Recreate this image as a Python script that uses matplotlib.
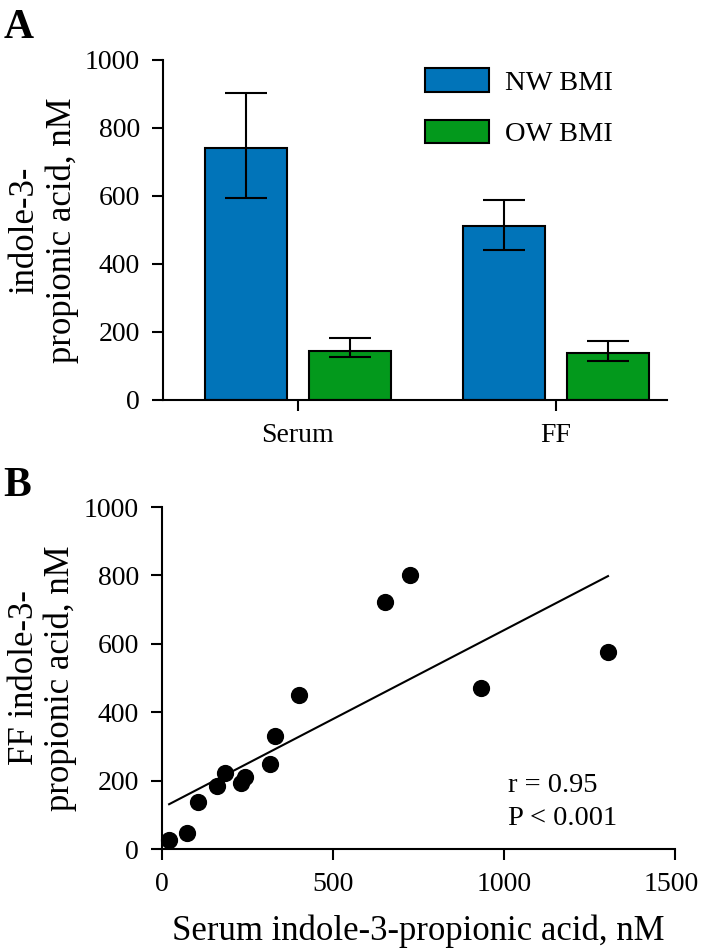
import numpy as np
import matplotlib
matplotlib.use('Agg')
import matplotlib.pyplot as plt
from matplotlib.transforms import ScaledTranslation

plt.rcParams['font.family'] = ['Liberation Serif', 'DejaVu Serif']
plt.rcParams['font.size'] = 20

# panel A data
groups = ['Serum', 'FF']
nw_mean = [742, 510]
nw_err_lo = [147, 70]
nw_err_hi = [161, 79]
ow_mean = [144, 138]
ow_err_lo = [18, 24]
ow_err_hi = [38, 35]

# panel B data
serum = [21, 73, 106, 161, 185, 230, 244, 317, 331, 401, 651, 725, 933, 1304]
ff = [26, 48, 137, 184, 221, 192, 211, 248, 330, 450, 721, 801, 472, 577]
fit_x = [21, 1304]
fit_y = [131, 798]

blue = '#0174b9'
green = '#03991c'

fig = plt.figure(figsize=(7.01, 9.5), dpi=100)

# ---- panel A ----
axA = fig.add_axes([0.2325, 0.579, 0.719, 0.358])
x = np.arange(len(groups))
w = 0.318
off = 0.2
axA.bar(x - off, nw_mean, w, color=blue, edgecolor='black', linewidth=1.5, label='NW BMI')
axA.bar(x + off, ow_mean, w, color=green, edgecolor='black', linewidth=1.5, label='OW BMI')
axA.errorbar(x - off, nw_mean, yerr=[nw_err_lo, nw_err_hi], fmt='none', ecolor='black',
             elinewidth=1.5, capsize=15, capthick=1.5)
axA.errorbar(x + off, ow_mean, yerr=[ow_err_lo, ow_err_hi], fmt='none', ecolor='black',
             elinewidth=1.5, capsize=15, capthick=1.5)
axA.set_xlim(-0.523, 1.43)
axA.set_ylim(0, 1000)
axA.set_yticks([0, 200, 400, 600, 800, 1000])
axA.set_xticks(x)
axA.set_xticklabels(groups)
axA.set_ylabel('indole-3-\npropionic acid, nM', fontsize=25, labelpad=4.5, linespacing=1.15)
axA.legend(loc='upper left', bbox_to_anchor=(0.52, 0.975), frameon=False, fontsize=20.5,
           handlelength=2.25, handleheight=0.88, handletextpad=0.56,
           labelspacing=0.85, borderpad=0, borderaxespad=0)

# ---- panel B ----
axB = fig.add_axes([0.231, 0.1063, 0.732, 0.36])
axB.scatter(serum, ff, s=130, color='black', zorder=3, clip_on=False)
axB.plot(fit_x, fit_y, color='black', linewidth=1.5)
axB.set_xlim(0, 1500)
axB.set_ylim(0, 1000)
axB.set_xticks([0, 500, 1000, 1500])
axB.set_yticks([0, 200, 400, 600, 800, 1000])
axB.set_xlabel('Serum indole-3-propionic acid, nM', fontsize=25, labelpad=13)
axB.set_ylabel('FF indole-3-\npropionic acid, nM', fontsize=25, labelpad=5, linespacing=1.1)
axB.text(1012, 187, 'r = 0.95', va='center', ha='left', fontsize=20.5)
axB.text(1012, 90, 'P < 0.001', va='center', ha='left', fontsize=20.5)

for ax in (axA, axB):
    ax.spines['top'].set_visible(False)
    ax.spines['right'].set_visible(False)
    ax.spines['left'].set_linewidth(1.5)
    ax.spines['bottom'].set_linewidth(1.5)
    ax.tick_params(width=1.5, length=8, pad=8.5)

# keep the last x tick label inside the figure
last = axB.get_xticklabels()[-1]
last.set_transform(last.get_transform() + ScaledTranslation(-4 / 100, 0, fig.dpi_scale_trans))

fig.text(0.005, 0.99, 'A', fontsize=30, fontweight='bold', va='top', ha='left')
fig.text(0.005, 0.508, 'B', fontsize=30, fontweight='bold', va='top', ha='left')

fig.savefig('out.png', dpi=100)
